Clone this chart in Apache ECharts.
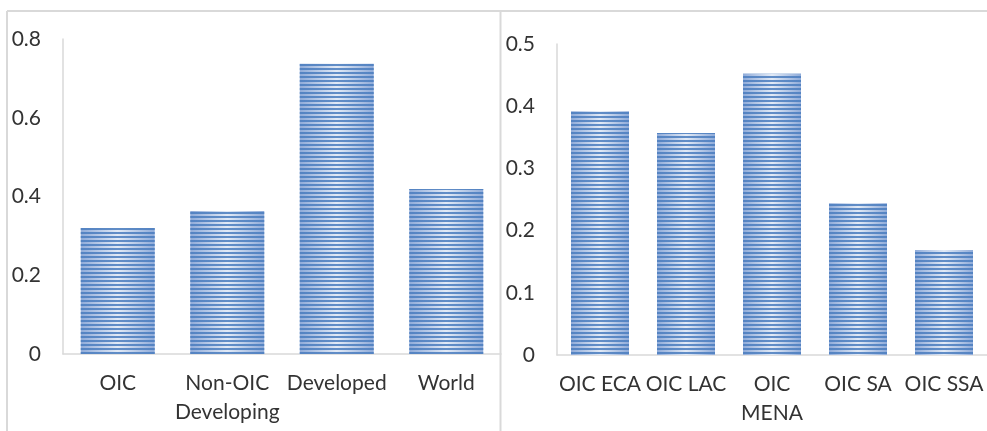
<!DOCTYPE html>
<html>
<head>
<meta charset="utf-8">
<script src="https://cdn.jsdelivr.net/npm/echarts@6/dist/echarts.min.js"></script>
<style>
html,body{margin:0;padding:0;background:#fff;}
#c{width:987px;height:431px;}
</style>
</head>
<body>
<div id="c"></div>
<script>
var leftCategories = ['OIC', 'Non-OIC\nDeveloping', 'Developed', 'World'];
var leftValues = [0.32, 0.363, 0.737, 0.419];
var rightCategories = ['OIC ECA', 'OIC LAC', 'OIC\nMENA', 'OIC SA', 'OIC SSA'];
var rightValues = [0.392, 0.357, 0.452, 0.244, 0.169];

var FONT = 'Lato';
var TXT = '#333333';
var GRAY = '#d9d9d9';

function barStyle() {
  return {
    color: {
      type: 'linear', x: 0, y: 0, x2: 1, y2: 0,
      colorStops: [
        {offset: 0, color: '#8fabd9'},
        {offset: 0.5, color: '#e2eaf6'},
        {offset: 1, color: '#8fabd9'}
      ]
    },
    decal: {
      symbol: 'rect',
      symbolSize: 1,
      dashArrayX: [1, 0],
      dashArrayY: [2, 2],
      rotation: 0,
      color: 'rgba(74,124,190,0.85)'
    }
  };
}

function xAx(gi, cats) {
  return {
    type: 'category', gridIndex: gi, data: cats,
    axisLine: {lineStyle: {color: GRAY, width: 1.5}},
    axisTick: {show: false},
    axisLabel: {color: TXT, fontFamily: FONT, fontSize: 21, lineHeight: 29, margin: 15, interval: 0}
  };
}
function yAx(gi, max, interval) {
  return {
    type: 'value', gridIndex: gi, min: 0, max: max, interval: interval,
    splitLine: {show: false},
    axisLine: {show: true, lineStyle: {color: GRAY, width: 1.5}},
    axisTick: {show: false},
    axisLabel: {color: TXT, fontFamily: FONT, fontSize: 21, margin: 22}
  };
}

var chart = echarts.init(document.getElementById('c'), null, {renderer: 'canvas'});
chart.setOption({
  animation: false,
  backgroundColor: '#fff',
  grid: [
    {left: 63, top: 39, width: 438, height: 315},
    {left: 557, top: 44, width: 435, height: 311}
  ],
  xAxis: [xAx(0, leftCategories), xAx(1, rightCategories)],
  yAxis: [yAx(0, 0.8, 0.2), yAx(1, 0.5, 0.1)],
  series: [
    {type: 'bar', xAxisIndex: 0, yAxisIndex: 0, data: leftValues, barWidth: 74, itemStyle: barStyle()},
    {type: 'bar', xAxisIndex: 1, yAxisIndex: 1, data: rightValues, barWidth: 58, itemStyle: barStyle()}
  ],
  graphic: [
    {type: 'line', shape: {x1: 7, y1: 11, x2: 987, y2: 11}, style: {stroke: GRAY, lineWidth: 2}},
    {type: 'line', shape: {x1: 7, y1: 11, x2: 7, y2: 431}, style: {stroke: GRAY, lineWidth: 2}},
    {type: 'line', shape: {x1: 500.5, y1: 11, x2: 500.5, y2: 431}, style: {stroke: GRAY, lineWidth: 2}}
  ]
});
</script>
</body>
</html>
